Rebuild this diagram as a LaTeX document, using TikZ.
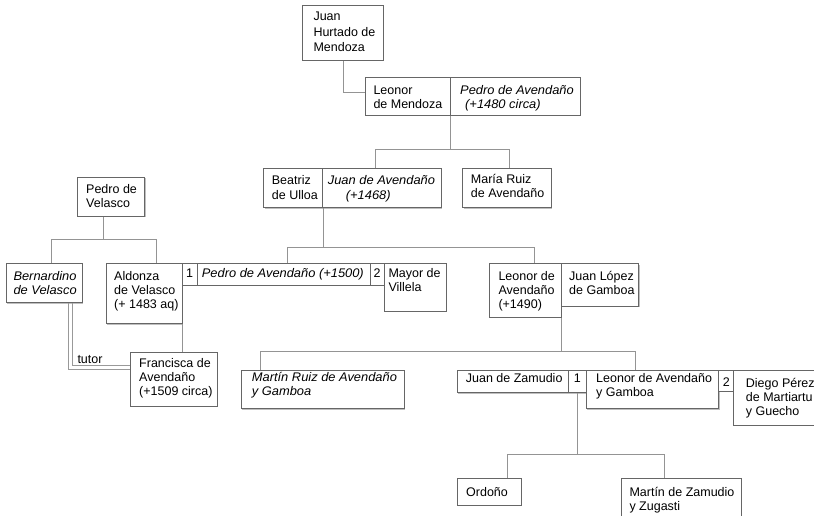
\documentclass[tikz,border=0pt]{standalone}
\usepackage{fontspec}
\setmainfont{Liberation Sans}[ItalicFeatures={FakeStretch=1.03}]
\usetikzlibrary{shadows}

% stacked lines of a name, aligned on the baseline of the first line
\newcommand{\famrows}[1]{\begin{tabular}[t]{@{}l@{}}#1\end{tabular}}
% a framed cell given by its corners: name, x1, y1, x2, y2
\newcommand{\drawcell}[5]{\node[famcell, minimum width={#4-#2}, minimum height={#5-#3}] (#1) at (#2,#3) {};}

\tikzset{
  famcell/.style={rectangle, draw=black!60, fill=white, line width=0.8pt,
    inner sep=0pt, anchor=north west,
    drop shadow={shadow xshift=0.8pt, shadow yshift=-0.8pt, fill=black!25, opacity=1}},
  famtext/.style={anchor=base west, inner sep=0pt, font=\fontsize{12.5}{14}\selectfont},
  link/.style={draw=black!42, line width=0.75pt},
  tutorlink/.style={draw=black!40, line width=0.8pt}
}

\begin{document}
\begin{tikzpicture}[x=1pt, y=-1pt]
\clip (0,0) rectangle (814,516);
\fill[white] (0,0) rectangle (814,516);

% ---- cells ----
\drawcell{juanH}{302.3}{5}{382.7}{60}
\drawcell{leonorM}{365}{76.7}{450}{115}
\drawcell{pedroA}{450}{76.7}{580}{115}
\drawcell{beatriz}{263.3}{168.3}{322.3}{207.3}
\drawcell{juanA}{322.3}{168.3}{440.7}{207.3}
\drawcell{maria}{462.3}{168.3}{551}{207.3}
\drawcell{pedroV}{77.3}{176.7}{144.3}{215.7}
\drawcell{bernardino}{5.7}{263.3}{81.7}{302.3}
\drawcell{aldonza}{105.7}{263.3}{181.7}{323.3}
\drawcell{na1}{181.7}{263.3}{196.7}{285}
\drawcell{pedroB}{196.7}{263.3}{370}{285}
\drawcell{na2}{370}{263.3}{384}{285}
\drawcell{mayor}{384}{263.3}{445.7}{311}
\drawcell{leonorA}{489.3}{263.3}{561}{316.7}
\drawcell{juanL}{561}{263.3}{638.3}{305.7}
\drawcell{francisca}{130}{352.3}{216.7}{406}
\drawcell{martinR}{240.7}{370}{404}{408.3}
\drawcell{juanZ}{456.7}{370}{568.3}{392.3}
\drawcell{nb1}{568.3}{370}{585.7}{392.3}
\drawcell{leonorAG}{585.7}{370}{718.3}{408.3}
\drawcell{nb2}{718.3}{370}{733.3}{391}
\drawcell{diego}{733.3}{370}{830}{425}
\drawcell{ordono}{456.7}{478.3}{521}{505}
\drawcell{martinZ}{620.7}{478.3}{741}{530}

% ---- lines of descent ----
\draw[link] (juanH.south) |- ([yshift=4.2pt]leonorM.west);

\draw[link] (leonorM.south east) -- ++(0,34) coordinate (bus1);
\draw[link] ([xshift=-6.5pt]juanA.north) |- (bus1) -| ([xshift=2.6pt]maria.north);

\draw[link] (beatriz.south east) -- ++(0,39.4) coordinate (bus2);
\draw[link] ([xshift=4pt]pedroB.north) |- (bus2) -| ([xshift=8.9pt]leonorA.north);

\draw[link] ([xshift=-8pt]pedroV.south) -- ++(0,22.6) coordinate (bus3);
\draw[link] ([xshift=7pt]bernardino.north) |- (bus3) -| ([xshift=12pt]aldonza.north);

\draw[link] (aldonza.south east) -- (aldonza.south east |- francisca.north);

% guardianship, drawn as two parallel rules
\draw[tutorlink] ([xshift=24.6pt]bernardino.south) |- ([yshift=10.6pt]francisca.west);
\draw[tutorlink] ([xshift=28pt]bernardino.south) |- ([yshift=14pt]francisca.west);

\draw[link] (leonorA.south east) -- ++(0,34) coordinate (bus4);
\draw[link] ([xshift=20pt]martinR.north west) |- (bus4) -| ([xshift=49.3pt]leonorAG.north west);

\draw[link] (nb1.south) -- ++(0,61) coordinate (bus5);
\draw[link] ([xshift=18pt]ordono.north) |- (bus5) -| ([xshift=-16.5pt]martinZ.north);

% ---- names ----
\node[famtext, font=\fontsize{12.5}{15.3}\selectfont] (tJuanH) at (313.3,21) {\famrows{Juan\\Hurtado de\\Mendoza}};
\node[famtext] (tLeonorM) at (373.3,94.7) {\famrows{Leonor\\de Mendoza}};
\node[famtext] (tPedroA) at (460,94.7) {\itshape\famrows{Pedro de Avendaño\\\hspace*{5pt}(+1480 circa)}};
\node[famtext] (tBeatriz) at (271.7,185) {\famrows{Beatriz\\de Ulloa}};
\node[famtext] (tJuanA) at (327.7,185) {\itshape\famrows{Juan de Avendaño\\\hspace*{18pt}(+1468)}};
\node[famtext] (tMaria) at (470.7,183.5) {\famrows{María Ruiz\\de Avendaño}};
\node[famtext] (tPedroV) at (86,193.3) {\famrows{Pedro de\\Velasco}};
\node[famtext] (tBernardino) at (13.3,280) {\itshape\famrows{Bernardino\\de Velasco}};
\node[famtext] (tAldonza) at (114,280.7) {\famrows{Aldonza\\de Velasco\\(+ 1483 aq)}};
\node[famtext] (tNa1) at (186,277) {1};
\node[famtext] (tPedroB) at (201.7,277) {\itshape Pedro de Avendaño (+1500)};
\node[famtext] (tNa2) at (373.3,277) {2};
\node[famtext] (tMayor) at (388.3,277) {\famrows{Mayor de\\Villela}};
\node[famtext] (tLeonorA) at (498.3,280) {\famrows{Leonor de\\Avendaño\\(+1490)}};
\node[famtext] (tJuanL) at (569,280.5) {\famrows{Juan López\\de Gamboa}};
\node[famtext] (tFrancisca) at (139,367.3) {\famrows{Francisca de\\Avendaño\\(+1509 circa)}};
\node[famtext] (tTutor) at (77.3,363.3) {tutor};
\node[famtext] (tMartinR) at (251.7,381) {\itshape\famrows{Martín Ruiz de Avendaño\\y Gamboa}};
\node[famtext] (tJuanZ) at (465.7,382.3) {Juan de Zamudio};
\node[famtext] (tNb1) at (573.7,382.3) {1};
\node[famtext] (tLeonorAG) at (596,382.3) {\famrows{Leonor de Avendaño\\y Gamboa}};
\node[famtext] (tNb2) at (722.7,386.5) {2};
\node[famtext] (tDiego) at (745.7,387.5) {\famrows{Diego Pérez\\de Martiartu\\y Guecho}};
\node[famtext] (tOrdono) at (466,496) {Ordoño};
\node[famtext] (tMartinZ) at (629.3,496) {\famrows{Martín de Zamudio\\y Zugasti}};
\end{tikzpicture}
\end{document}
